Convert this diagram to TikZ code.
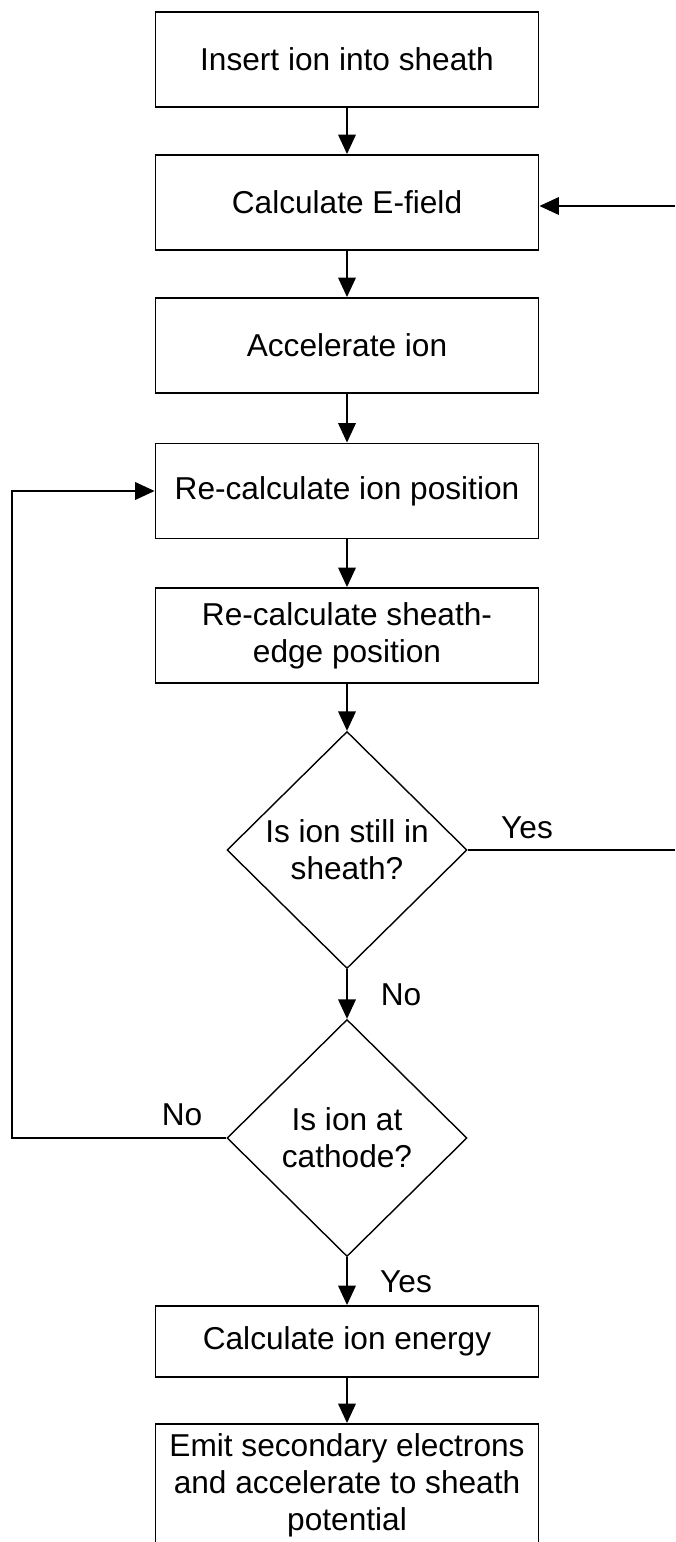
\documentclass[tikz,border=0pt]{standalone}
\usepackage{fontspec}
\setmainfont{Liberation Sans}
\usetikzlibrary{positioning, arrows.meta, shapes.geometric}

\begin{document}
\begin{tikzpicture}[
    font=\fontsize{18}{21}\selectfont,
    % Styles
    stepbox/.style={rectangle, draw=black, line width=1.1pt, fill=white, minimum width=7.66cm, minimum height=1.9cm, align=center, inner sep=2pt},
    shortbox/.style={stepbox, minimum height=1.42cm},
    decision/.style={diamond, draw=black, line width=0.8pt, fill=white, minimum width=4.8cm, minimum height=4.74cm, align=center, inner sep=0pt},
    tag/.style={inner sep=0pt},
    arrow/.style={-{Triangle[length=11pt, width=10pt]}, line width=0.8pt, black},
    plainline/.style={line width=0.8pt, black}
]

\useasboundingbox (0,0) rectangle (13.5,-30.84);

% ==================== MAIN CHAIN ====================
\node[stepbox] (insert) at (6.94, -1.19) {Insert ion into sheath};
\node[stepbox] (efield) at (6.94, -4.05) {Calculate E-field};
\node[stepbox] (accel) at (6.94, -6.91) {Accelerate ion};
\node[stepbox] (recalcpos) at (6.94, -9.82) {Re-calculate ion position};
\node[stepbox] (recalcedge) at (6.94, -12.71) {Re-calculate sheath-\\edge position};

% ==================== DECISIONS ====================
\node[decision] (insheath) at (6.94, -17.0) {Is ion still in\\sheath?};
\node[decision] (atcathode) at (6.94, -22.76) {Is ion at\\cathode?};

% ==================== OUTPUTS ====================
\node[shortbox] (energy) at (6.94, -26.83) {Calculate ion energy};
\node[stepbox, minimum height=2.44cm] (emit) at (6.94, -29.70) {Emit secondary electrons\\and accelerate to sheath\\potential};

% Labels
\node[tag] (yes1) at (10.54, -16.56) {Yes};
\node[tag] (no1) at (8.02, -19.9) {No};
\node[tag] (no2) at (3.64, -22.3) {No};
\node[tag] (yes2) at (8.12, -25.64) {Yes};

% Free ends at the picture edge
\coordinate (yesright) at (13.5, -17.0);
\coordinate (efieldright) at (13.5, -4.12);
\coordinate (loopleft) at (0.24, -22.76);

% Connectors
\draw[arrow] (insert.south) -- (efield.north);
\draw[arrow] (efield.south) -- (accel.north);
\draw[arrow] (accel.south) -- (recalcpos.north);
\draw[arrow] (recalcpos.south) -- (recalcedge.north);
\draw[arrow] (recalcedge.south) -- (insheath.north);
\draw[arrow] (insheath.south) -- (atcathode.north);
\draw[arrow] (atcathode.south) -- (energy.north);
\draw[arrow] (energy.south) -- (emit.north);

\draw[plainline] (insheath.east) -- (yesright);
\draw[arrow] (efieldright) -- (efieldright -| efield.east);
\draw[arrow] (atcathode.west) -- (loopleft) |- (recalcpos.west);

\end{tikzpicture}
\end{document}
